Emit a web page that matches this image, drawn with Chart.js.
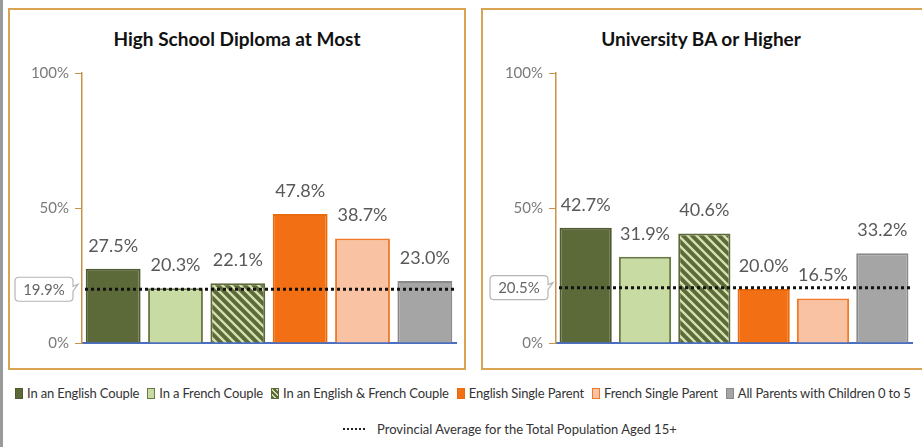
<!DOCTYPE html>
<html>
<head>
<meta charset="utf-8">
<script src="https://cdn.jsdelivr.net/npm/chart.js@4.4.1/dist/chart.umd.min.js"></script>
<style>
  body { margin: 0; width: 922px; height: 447px; background: #fff; position: relative; overflow: hidden;
         font-family: Lato, "DejaVu Sans Condensed", sans-serif; }
  .edge { position: absolute; left: 0; top: 0; width: 3px; height: 447px; background: #9a9a9a; }
  .panel { position: absolute; top: 8px; height: 362px; border: 2px solid #d9a352; box-sizing: border-box; }
  #p1 { left: 8px; width: 458px; }
  #p2 { left: 481px; width: 460px; }
  .title { position: absolute; top: 27px; font-weight: bold; font-size: 19px; color: #111; text-align: center; }
  #t1 { left: 8px; width: 458px; }
  #t2 { left: 481px; width: 440px; }
  canvas { position: absolute; top: 0; }
  #c1 { left: 0; }
  #c2 { left: 470px; }
  .legend { position: absolute; white-space: nowrap; font-size: 13px; color: #333; }
  #leg1 { left: 15px; top: 385px; letter-spacing: -0.15px; }
  #leg2 { left: 343px; top: 421px; }
  .sw { display: inline-block; width: 8px; height: 11px; margin-right: 4px; vertical-align: -1px; box-sizing: border-box; border: 1px solid; }
  .item { margin-right: 8px; }
</style>
</head>
<body>
<div class="edge"></div>
<div class="panel" id="p1"></div>
<div class="panel" id="p2"></div>
<div class="title" id="t1">High School Diploma at Most</div>
<div class="title" id="t2">University BA or Higher</div>
<canvas id="c1" width="470" height="360"></canvas>
<canvas id="c2" width="452" height="360"></canvas>
<div class="legend" id="leg1"></div>
<div class="legend" id="leg2"></div>
<script>
const categories = ['In an English Couple', 'In a French Couple', 'In an English & French Couple',
  'English Single Parent', 'French Single Parent', 'All Parents with Children 0 to 5'];
const highSchool = [27.5, 20.3, 22.1, 47.8, 38.7, 23.0];
const university = [42.7, 31.9, 40.6, 20.0, 16.5, 33.2];
const provincialAvg = [19.9, 20.5];
const yTicks = [0, 50, 100];
const avgLabel = 'Provincial Average for the Total Population Aged 15+';

const FONT = 'Lato, "DejaVu Sans Condensed", sans-serif';

// hatched fill for the mixed couple
function makeHatch() {
  const c = document.createElement('canvas');
  c.width = 9; c.height = 9;
  const g = c.getContext('2d');
  g.fillStyle = '#5c6a3a';
  g.fillRect(0, 0, 9, 9);
  g.strokeStyle = '#d3e0ae';
  g.lineWidth = 2.4;
  g.beginPath();
  g.moveTo(-2, -2); g.lineTo(11, 11);
  g.moveTo(-11, -2); g.lineTo(2, 11);
  g.moveTo(7, -2); g.lineTo(20, 11);
  g.stroke();
  return g.createPattern(c, 'repeat');
}
const hatch = makeHatch();

const fills = ['#5c6a3a', '#c8dba3', hatch, '#f26f13', '#f9c3a3', '#a5a5a5'];
const borders = ['#4e5a30', '#6b7a45', '#5c6a3a', '#ea6a0e', '#f07a2a', '#8a8a8a'];

const avgPlugin = {
  id: 'avgLine',
  afterDatasetsDraw(chart) {
    const { ctx, chartArea, scales } = chart;
    const avg = chart.options.plugins.avgLine.value;
    const y = scales.y.getPixelForValue(avg);
    ctx.save();
    ctx.strokeStyle = '#111';
    ctx.lineWidth = 3;
    ctx.setLineDash([3, 3]);
    ctx.beginPath();
    ctx.moveTo(chartArea.left + 3, y);
    ctx.lineTo(chartArea.right - 1, y);
    ctx.stroke();
    ctx.setLineDash([]);

    // value labels with white backing
    ctx.font = '18px ' + FONT;
    ctx.textAlign = 'center';
    ctx.textBaseline = 'middle';
    const meta = chart.getDatasetMeta(0);
    meta.data.forEach((bar, i) => {
      const txt = chart.data.datasets[0].data[i].toFixed(1) + '%';
      const w = ctx.measureText(txt).width;
      const ty = bar.y - 23;
      ctx.fillStyle = '#fff';
      ctx.fillRect(bar.x - w / 2 - 2, ty - 10, w + 4, 20);
      ctx.fillStyle = '#595959';
      ctx.fillText(txt, bar.x, ty);
    });

    // callout box for the average
    const bx = chart.options.plugins.avgLine.boxX;
    const bw = 58, bh = 24;
    ctx.strokeStyle = '#b5b5b5';
    ctx.lineWidth = 1.2;
    ctx.fillStyle = '#fff';
    ctx.beginPath();
    ctx.moveTo(bx + 4, y - bh / 2);
    ctx.lineTo(bx + bw - 4, y - bh / 2);
    ctx.quadraticCurveTo(bx + bw, y - bh / 2, bx + bw, y - bh / 2 + 4);
    ctx.lineTo(bx + bw, y - 3);
    ctx.lineTo(bx + bw + 5, y - 5);
    ctx.lineTo(bx + bw, y + 2);
    ctx.lineTo(bx + bw, y + bh / 2 - 4);
    ctx.quadraticCurveTo(bx + bw, y + bh / 2, bx + bw - 4, y + bh / 2);
    ctx.lineTo(bx + 4, y + bh / 2);
    ctx.quadraticCurveTo(bx, y + bh / 2, bx, y + bh / 2 - 4);
    ctx.lineTo(bx, y - bh / 2 + 4);
    ctx.quadraticCurveTo(bx, y - bh / 2, bx + 4, y - bh / 2);
    ctx.closePath();
    ctx.fill();
    ctx.stroke();
    ctx.font = '15px ' + FONT;
    ctx.fillStyle = '#666';
    ctx.fillText(avg.toFixed(1) + '%', bx + bw / 2, y + 1);
    ctx.restore();
  }
};

function makeChart(id, values, avg, yWidth, padRight, boxX) {
  return new Chart(document.getElementById(id), {
    type: 'bar',
    data: {
      labels: categories,
      datasets: [{
        data: values,
        backgroundColor: fills,
        borderColor: borders,
        borderWidth: 2,
        barPercentage: 0.88,
        categoryPercentage: 1
      }]
    },
    options: {
      responsive: false,
      animation: false,
      layout: { padding: { top: 73, bottom: 17, left: 0, right: padRight } },
      plugins: {
        legend: { display: false },
        tooltip: { enabled: false },
        avgLine: { value: avg, boxX: boxX }
      },
      scales: {
        x: {
          ticks: { display: false },
          grid: { display: false },
          border: { color: '#4a6fc0', width: 2 },
          afterFit: (s) => { s.height = 0; }
        },
        y: {
          min: 0,
          max: 100,
          afterBuildTicks: (s) => { s.ticks = yTicks.map(v => ({ value: v })); },
          ticks: {
            padding: 6,
            color: '#7a7a7a',
            font: { size: 15, family: FONT },
            callback: (v) => v + '%'
          },
          grid: { drawOnChartArea: false, tickLength: 7, color: '#c9924a' },
          border: { color: '#c9924a', width: 1.5 },
          afterFit: (s) => { s.width = yWidth; }
        }
      }
    },
    plugins: [avgPlugin]
  });
}

makeChart('c1', highSchool, provincialAvg[0], 82, 14, 15);
makeChart('c2', university, provincialAvg[1], 86, 10, 20);

// legend
const swatchCss = [
  'background:#5c6a3a;border-color:#4e5a30',
  'background:#c8dba3;border-color:#6b7a45',
  'background:repeating-linear-gradient(45deg,#5c6a3a 0 2px,#d3e0ae 2px 3.5px);border-color:#5c6a3a',
  'background:#f26f13;border-color:#ea6a0e',
  'background:#f9c3a3;border-color:#f07a2a',
  'background:#a5a5a5;border-color:#8a8a8a'
];
document.getElementById('leg1').innerHTML = categories.map((c, i) =>
  '<span class="item"><span class="sw" style="' + swatchCss[i] + '"></span>' + c + '</span>').join('');
document.getElementById('leg2').innerHTML =
  '<span style="display:inline-block;width:22px;border-top:2px dotted #222;vertical-align:4px;margin-right:12px"></span>' + avgLabel;
</script>
</body>
</html>
